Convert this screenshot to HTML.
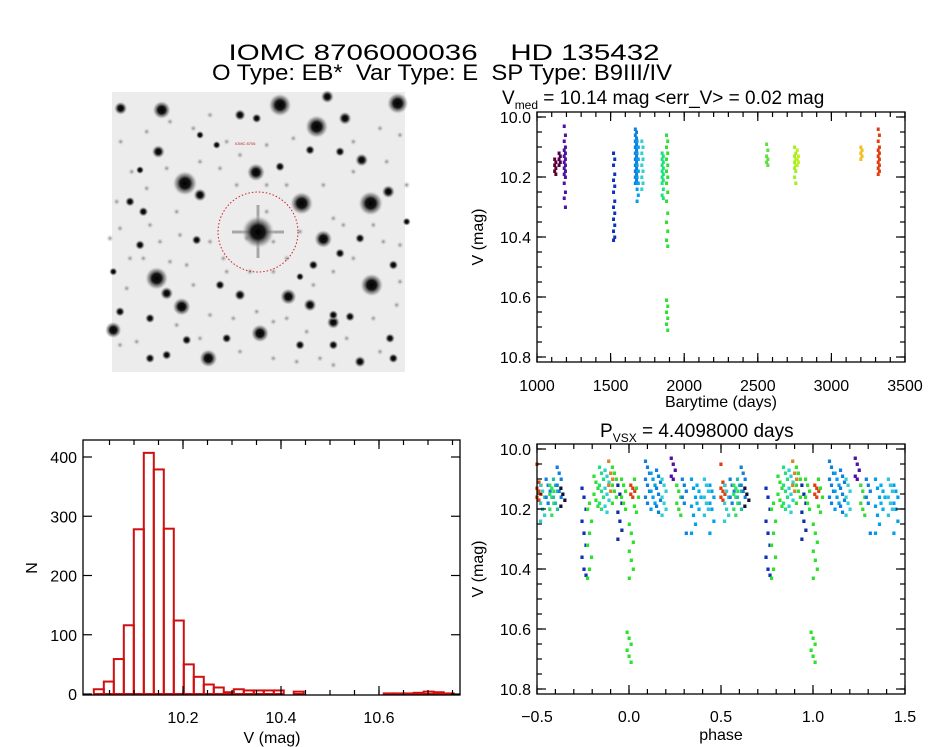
<!DOCTYPE html>
<html><head><meta charset="utf-8"><style>
html,body{margin:0;padding:0;background:#fff;}
svg{display:block;font-family:"Liberation Sans",sans-serif;}
</style></head><body>
<svg id="s" width="944" height="747" viewBox="0 0 944 747" xmlns="http://www.w3.org/2000/svg">
<defs>
<radialGradient id="star"><stop offset="0" stop-color="#000"/><stop offset="0.4" stop-color="#151515"/><stop offset="0.75" stop-color="#888" stop-opacity="0.6"/><stop offset="1" stop-color="#eee" stop-opacity="0"/></radialGradient>
<radialGradient id="faint"><stop offset="0" stop-color="#888"/><stop offset="1" stop-color="#eee" stop-opacity="0"/></radialGradient>
</defs>
<text x="444" y="60" font-size="22" text-anchor="middle" style="white-space:pre" textLength="431" lengthAdjust="spacingAndGlyphs">IOMC 8706000036    HD 135432</text>
<text x="442" y="80" font-size="22" text-anchor="middle" style="white-space:pre" textLength="460" lengthAdjust="spacingAndGlyphs">O Type: EB*  Var Type: E  SP Type: B9III/IV</text>
<g id="img">
<rect x="112" y="92" width="293" height="280" fill="#ececec"/>
</g>
<g id="ts"></g>
<g id="hist"></g>
<g id="ph"></g>
</svg>
<script>
// ---------- DATA ----------
const tsTimes  = [1120, 1150, 1185, 1520, 1668, 1680, 1712, 1850, 1880, 2560, 2750, 2768, 3200, 3318];
const tsColors = ["#600030","#500050","#5010a0","#1030c0","#1080e0","#00a0f0","#30d0d0","#20e080","#30e030","#60e040","#a0f020","#c0f020","#f0c020","#e04010"];
const tsValues = [
 [10.14,10.15,10.16,10.17,10.18,10.19],
 [10.12,10.13,10.14,10.15,10.16],
 [10.03,10.06,10.08,10.10,10.11,10.12,10.13,10.14,10.15,10.16,10.17,10.18,10.19,10.20,10.22,10.25,10.27,10.30],
 [10.12,10.14,10.16,10.19,10.21,10.23,10.25,10.28,10.30,10.32,10.34,10.36,10.38,10.40,10.41],
 [10.04,10.05,10.06,10.07,10.08,10.09,10.10,10.11,10.12,10.13,10.14,10.15,10.16,10.17,10.18,10.19,10.20,10.21,10.22],
 [10.08,10.10,10.12,10.14,10.16,10.18,10.20,10.22,10.24,10.26,10.28],
 [10.08,10.10,10.12,10.14,10.16,10.18,10.20,10.22,10.24],
 [10.12,10.13,10.14,10.15,10.16,10.17,10.18,10.19,10.20,10.21,10.22,10.24,10.26,10.27],
 [10.06,10.08,10.10,10.12,10.14,10.16,10.18,10.20,10.22,10.25,10.28,10.32,10.35,10.38,10.41,10.43,10.61,10.63,10.65,10.67,10.69,10.71],
 [10.09,10.11,10.13,10.14,10.15,10.16],
 [10.10,10.12,10.13,10.14,10.15,10.16,10.17,10.18,10.20,10.22],
 [10.11,10.13,10.14,10.15,10.16],
 [10.10,10.11,10.12,10.13,10.14],
 [10.04,10.06,10.08,10.10,10.11,10.12,10.13,10.14,10.15,10.16,10.17,10.18,10.19]
];
const histStart = 10.018, histWidth = 0.0204;
const histCounts = [8,21,59,116,278,407,379,279,124,50,29,16,11,3,8,6,6,6,6,0,4,0,0,0,0,0,0,0,0,1,1,1,2,4,3,1];
const phCenters = [-0.49,-0.47,-0.44,-0.42,-0.40,-0.38,-0.36,-0.245,-0.215,-0.18,-0.15,-0.12,-0.10,-0.08,-0.05,-0.03,0.0,0.012,0.02,0.04,0.10,0.13,0.16,0.19,0.24,0.27,0.30,0.35,0.38,0.42,0.45];
const phColors  = ["#e04010","#30d0d0","#1080e0","#30e060","#20c0a0","#1080e0","#101030","#1030c0","#30e030","#30e030","#20e080","#30d0d0","#e08020","#30e030","#1030a0","#30e030","#30e030","#30e030","#e04010","#30e030","#1080e0","#00a0f0","#1080e0","#30d0d0","#5010a0","#30e030","#1080e0","#00a0f0","#00b0f0","#30c0e0","#00a0f0"];
const phValues = [
 [10.05,10.11,10.12,10.13,10.14,10.15,10.16,10.17],
 [10.12,10.14,10.16,10.18,10.20,10.22,10.24],
 [10.10,10.12,10.14,10.16,10.18],
 [10.12,10.13,10.14,10.15,10.16,10.18,10.20,10.22],
 [10.10,10.12,10.14,10.16,10.18,10.20],
 [10.06,10.08,10.10,10.12,10.14,10.16],
 [10.13,10.15,10.17,10.19],
 [10.13,10.16,10.20,10.24,10.28,10.32,10.36,10.40,10.42],
 [10.43,10.40,10.36,10.32,10.28,10.24,10.20,10.18],
 [10.09,10.11,10.13,10.15,10.17,10.19],
 [10.06,10.08,10.10,10.12,10.14,10.16,10.18,10.20],
 [10.07,10.09,10.11,10.13,10.15,10.17,10.19,10.21],
 [10.04,10.08,10.10,10.12,10.14],
 [10.06,10.08,10.10,10.12,10.14,10.16,10.18],
 [10.12,10.15,10.18,10.21,10.24,10.27,10.30],
 [10.10,10.12,10.14,10.16,10.18,10.20],
 [10.61,10.63,10.65,10.67,10.69,10.71],
 [10.25,10.28,10.31,10.34,10.37,10.40,10.43],
 [10.12,10.13,10.14,10.15,10.16],
 [10.10,10.13,10.16,10.19,10.21],
 [10.04,10.06,10.08,10.10,10.12,10.14,10.16,10.18],
 [10.08,10.10,10.12,10.14,10.16,10.18,10.20],
 [10.07,10.09,10.11,10.13,10.15,10.17,10.19,10.21],
 [10.10,10.12,10.14,10.16,10.18,10.20,10.22],
 [10.03,10.05,10.07,10.09,10.10],
 [10.12,10.14,10.16,10.18,10.20,10.22],
 [10.10,10.12,10.14,10.16,10.18,10.28],
 [10.10,10.13,10.16,10.19,10.22,10.25,10.28],
 [10.12,10.14,10.16,10.18,10.20],
 [10.10,10.12,10.14,10.16,10.18,10.20,10.22],
 [10.12,10.14,10.16,10.18,10.20,10.24,10.28]
];
const tsXTicks = [1000,1500,2000,2500,3000,3500];
const vTicks = [10.0,10.2,10.4,10.6,10.8];
const histXTicks = [10.2,10.4,10.6];
const histYTicks = [0,100,200,300,400];
const phXTicks = [-0.5,0.0,0.5,1.0,1.5];

// ---------- HELPERS ----------
const NS="http://www.w3.org/2000/svg";
function mk(tag, parent, attrs){const e=document.createElementNS(NS,tag);for(const k in attrs)e.setAttribute(k,attrs[k]);parent.appendChild(e);return e;}
function txt(parent,x,y,s,size,anchor,rot){const t=mk("text",parent,{x:x,y:y,"font-size":size,"text-anchor":anchor||"middle"});if(rot)t.setAttribute("transform","rotate(-90 "+x+" "+y+")");t.textContent=s;return t;}
function frame(g,x0,y0,x1,y1){
  const r=mk("rect",g,{x:x0,y:y0,width:x1-x0,height:y1-y0,fill:"none",stroke:"#000","stroke-width":1.3});
  
  
}
function xTicks(g,sx,vals,y0,y1,len){vals.forEach(v=>{const x=sx(v);
  const a=mk("line",g,{x1:x,x2:x,y1:y1,y2:y1-len,stroke:"#000","stroke-width":1.2});
  
  
  const b=mk("line",g,{x1:x,x2:x,y1:y0,y2:y0+len,stroke:"#000","stroke-width":1.2});
  
  });}
function yTicks(g,sy,vals,x0,x1,len){vals.forEach(v=>{const y=sy(v);
  const a=mk("line",g,{x1:x0,x2:x0+len,y1:y,y2:y,stroke:"#000","stroke-width":1.2});
  
  
  const b=mk("line",g,{x1:x1,x2:x1-len,y1:y,y2:y,stroke:"#000","stroke-width":1.2});
  
  });}
function range(a,b,s){const r=[];for(let v=a;v<=b+1e-9;v+=s)r.push(+v.toFixed(4));return r;}

// ---------- SKY IMAGE ----------
(function(){
  const g=document.getElementById("img");
  const faint=[[62,170],[95,260],[140,140],[210,110],[280,130],[330,90],[380,170],[300,230],[230,380],[150,420],[60,430],[90,520],[260,540],[330,470],[370,520],[440,460],[500,380],[520,470],[560,520],[600,440],[700,400],[760,260],[860,230],[900,150],[840,130],[760,170],[580,160],[500,180],[420,210],[80,610],[280,600],[330,690],[400,700],[470,680],[520,710],[560,700],[620,740],[660,820],[740,760],[820,700],[890,660],[900,590],[850,470],[760,520],[700,560],[640,600],[520,560],[450,560],[380,560],[210,530],[130,520],[60,780],[110,770],[230,720],[300,760],[420,800],[520,820],[590,830],[700,840],[840,800],[820,420],[730,420],[670,300],[560,300],[500,300],[410,300],[360,250],[200,250],[140,310],[50,350],[30,460],[240,450],[180,470],[920,300],[900,480]];
  faint.forEach(s=>{
    const c=mk("circle",g,{cx:100+s[0]/3,cy:85+s[1]/3,r:4,fill:"url(#faint)"});
    
    
  });
  const stars=[[540,60,14],[650,125,14],[185,75,11],[255,295,15],[605,355,14],[812,355,15],[670,462,11],[170,580,14],[815,600,14],[245,665,11],[480,745,11],[325,820,11],[565,635,10],[630,660,8],[700,712,8],[735,100,8],[682,35,8],[893,55,13],[468,262,11],[420,90,7],[62,70,8],[175,200,8],[300,330,8],[865,320,8],[785,225,8],[200,625,8],[40,735,10],[780,830,7],[470,100,6],[720,200,6],[630,195,6],[540,245,6],[120,255,5],[90,350,6],[130,380,6],[290,465,6],[120,480,6],[360,600,6],[420,630,7],[700,690,6],[750,695,6],[640,540,6],[600,575,5],[880,540,6],[780,460,6],[720,505,6],[150,700,6],[260,765,6],[380,760,6],[600,780,6],[700,780,6],[870,760,6],[880,820,6],[150,820,6],[60,680,6],[200,810,6],[920,410,5],[40,560,5],[350,180,5],[300,150,5]];
  stars.forEach(s=>{
    const c=mk("circle",g,{cx:100+s[0]/3,cy:85+s[1]/3,r:s[2]*0.85,fill:"url(#star)"});
    
    
  });
  const sp=mk("path",g,{d:"M232 232H284M258 205V258",stroke:"#555","stroke-width":3,opacity:0.45});
  
  
  const t=mk("circle",g,{cx:258,cy:232,r:17,fill:"url(#star)"});
  
  
  const c=mk("circle",g,{cx:258,cy:232,r:40,fill:"none",stroke:"#d02020","stroke-width":1,"stroke-dasharray":"1.5 2"});
  
  
  const lb=mk("text",g,{x:235,y:145,"font-size":4,fill:"#c02020"});lb.textContent="IOMC 8706";
  
  
})();

// ---------- TIME SERIES ----------
(function(){
  const g=document.getElementById("ts");
  const x0=537,x1=905,y0=112,y1=362;
  const sx=t=>537+(t-1000)*368/2500, sy=v=>117+(v-10)*300;
  tsTimes.forEach((t,i)=>{tsValues[i].forEach((v,j)=>{
    const p=mk("rect",g,{x:sx(t)-1.5+(j%2)*1.2,y:sy(v)-1.5,width:3,height:3.5,fill:tsColors[i]});
    
    
  });});
  frame(g,x0,y0,x1,y1);
  xTicks(g,sx,range(1000,3500,100),y0,y1,5);xTicks(g,sx,tsXTicks,y0,y1,9);
  yTicks(g,sy,range(10.0,10.8,0.05),x0,x1,5);yTicks(g,sy,vTicks,x0,x1,9);
  tsXTicks.forEach(v=>{const l=txt(g,sx(v),391,String(v),16);
    
    });
  vTicks.forEach(v=>{const l=txt(g,531,sy(v)+6,v.toFixed(1),16,"end");
    
    });
  const xl=txt(g,721,407,"Barytime (days)",16);
  
  
  const yl=txt(g,483,237,"V (mag)",16,"middle",true);
  
  
  const ti=mk("text",g,{x:502,y:104,"font-size":19});
  ti.innerHTML='V<tspan font-size="12" dy="5">med</tspan><tspan dy="-5"> = 10.14 mag &lt;err_V&gt; = 0.02 mag</tspan>';
  
  
})();

// ---------- HISTOGRAM ----------
(function(){
  const g=document.getElementById("hist");
  const x0=83,x1=460,y0=440,y1=695;
  const sx=v=>183+(v-10.2)*490, sy=n=>694-n*237/400;
  histCounts.forEach((n,i)=>{
    const a=histStart+i*histWidth, b=a+histWidth;
    const r=mk("rect",g,{x:sx(a),y:sy(n),width:sx(b)-sx(a),height:sy(0)-sy(n),fill:"none",stroke:"#d01010","stroke-width":2});
    
    
  });
  frame(g,x0,y0,x1,y1);
  xTicks(g,sx,range(10.05,10.75,0.05),y0,y1,5);xTicks(g,sx,histXTicks,y0,y1,9);
  yTicks(g,sy,histYTicks,x0,x1,9);
  histXTicks.forEach(v=>{const l=txt(g,sx(v),723,v.toFixed(1),16);
    
    });
  histYTicks.forEach(v=>{const l=txt(g,77,sy(v)+6,String(v),16,"end");
    
    });
  const xl=txt(g,272,743,"V (mag)",16);
  
  
  const yl=txt(g,37,568,"N",16,"middle",true);
  
  
})();

// ---------- PHASE PLOT ----------
(function(){
  const g=document.getElementById("ph");
  const x0=537,x1=905,y0=444,y1=694;
  const sx=p=>537+(p+0.5)*184, sy=v=>449+(v-10)*300;
  phCenters.forEach((c,i)=>{const vs=phValues[i];vs.forEach((v,j)=>{
    [0,1].forEach(k=>{
      const p=mk("rect",g,{x:sx(c+k)-1.5+((j%3)-1)*2,y:sy(v)-1.5,width:3.2,height:3.5,fill:phColors[i]});
      
      
    });
  });});
  frame(g,x0,y0,x1,y1);
  xTicks(g,sx,range(-0.5,1.5,0.1),y0,y1,5);xTicks(g,sx,phXTicks,y0,y1,9);
  yTicks(g,sy,range(10.0,10.8,0.05),x0,x1,5);yTicks(g,sy,vTicks,x0,x1,9);
  phXTicks.forEach(v=>{const l=txt(g,sx(v),722,v.toFixed(1).replace("-","\u2212"),16);
    
    });
  vTicks.forEach(v=>{const l=txt(g,531,sy(v)+6,v.toFixed(1),16,"end");
    
    });
  const xl=txt(g,721,740,"phase",16);
  
  
  const yl=txt(g,483,569,"V (mag)",16,"middle",true);
  
  
  const ti=mk("text",g,{x:600,y:437,"font-size":19});
  ti.innerHTML='P<tspan font-size="12" dy="5">VSX</tspan><tspan dy="-5"> = 4.4098000 days</tspan>';
  
  
})();
</script>
</body></html>
